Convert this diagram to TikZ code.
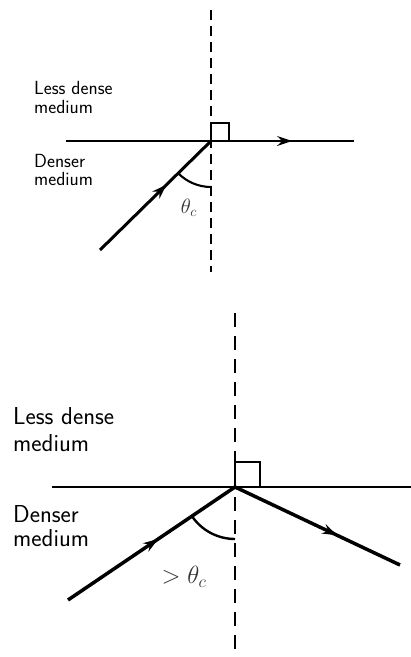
\documentclass[tikz,border=0pt]{standalone}
\usetikzlibrary{arrows.meta,decorations.markings}
\begin{document}
\begin{tikzpicture}[x=1pt,y=1pt,
  interface/.style={line width=2.2pt},
  normal/.style={line width=2.4pt,dash pattern=on 10pt off 6pt},
  normalb/.style={line width=2.8pt,dash pattern=on 14pt off 9pt},
  ray/.style={line width=3pt},
  rayb/.style={line width=3.5pt},
  markat/.style={postaction={decorate},decoration={markings,
     mark=at position #1 with {\arrow{Stealth[length=15pt,width=10pt,inset=5pt]}}}},
  lab/.style={anchor=base west,inner sep=0pt,font=\sffamily\fontsize{19}{21}\selectfont},
  labb/.style={anchor=base west,inner sep=0pt,font=\sffamily\fontsize{24.5}{28}\selectfont},
  ang/.style={text=black!80,inner sep=0pt}
]
\useasboundingbox (0,0) rectangle (411,657);

% ---------- top diagram ----------
\coordinate (O1) at (211,516);
\coordinate (N1a) at (211,647);
\coordinate (N1b) at (211,385);
\coordinate (I1l) at (66,516);
\coordinate (I1r) at (354,516);
\coordinate (S1) at (100,407);

\draw[normal] (N1a) -- (N1b);
\draw[interface,markat=0.785] (I1l) -- (I1r);
\draw[line width=1.9pt] (O1) rectangle ++(18,18);
\draw[ray,markat=0.6] (S1) -- (O1);
\draw[line width=2.1pt] (O1) ++(224.5:46) arc[start angle=224.5,end angle=270,radius=46];
\node[ang,font=\fontsize{20}{22}\selectfont] (t1) at (189,449) {$\theta_c$};

\node[lab] (l1a) at (34,562) {Less dense};
\node[lab] (l1b) at (34,543) {medium};
\node[lab] (d1a) at (34,489) {Denser};
\node[lab] (d1b) at (34,471) {medium};

% ---------- bottom diagram ----------
\coordinate (O2) at (235,170);
\coordinate (N2a) at (235,344);
\coordinate (N2b) at (235,0);
\coordinate (I2l) at (52,170);
\coordinate (I2r) at (411,170);
\coordinate (S2) at (68,57);
\coordinate (R2) at (400,92);

\draw[normalb] (N2a) -- (N2b);
\draw[interface,line width=2.5pt] (I2l) -- (I2r);
\draw[line width=2.2pt] (O2) rectangle ++(25,25);
\draw[rayb,markat=0.54] (S2) -- (O2);
\draw[rayb,markat=0.62] (O2) -- (R2);
\draw[line width=2.4pt] (O2) ++(214:52) arc[start angle=214,end angle=270,radius=52];
\node[ang,font=\fontsize{26}{30}\selectfont] (t2) at (184,80) {$>\theta_c$};

\node[labb] (l2a) at (13,232) {Less dense};
\node[labb] (l2b) at (13,205) {medium};
\node[labb] (d2a) at (13,134) {Denser};
\node[labb] (d2b) at (13,110) {medium};
\end{tikzpicture}
\end{document}
